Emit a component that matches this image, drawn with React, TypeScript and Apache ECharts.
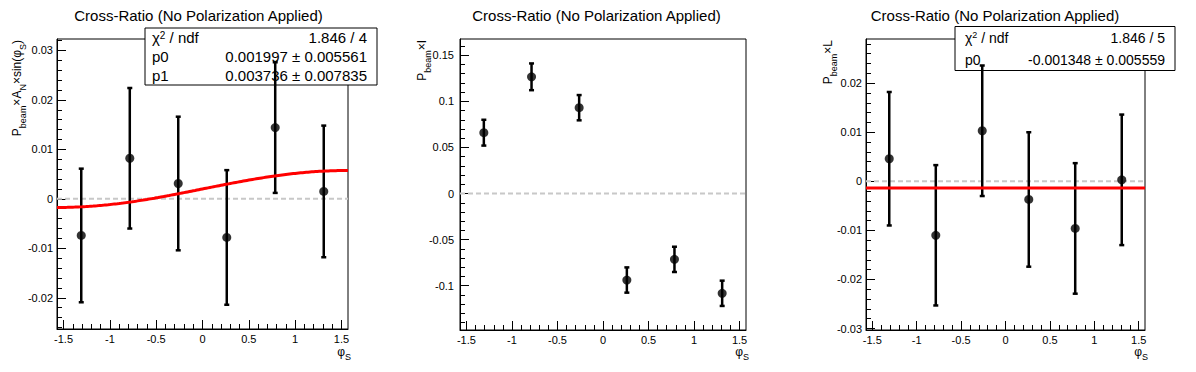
import React, { useEffect, useRef } from "react";
import * as echarts from "echarts";

// ---- data ----
const phiS = [-1.309, -0.785, -0.262, 0.262, 0.785, 1.309];

const aNValues = [-0.0074, 0.0082, 0.0031, -0.0078, 0.0144, 0.0015];
const aNErrors = [0.0135, 0.0142, 0.0135, 0.0136, 0.0132, 0.0133];

const iValues = [0.066, 0.1266, 0.0931, -0.0938, -0.0714, -0.1082];
const iErrors = [0.014, 0.0145, 0.0137, 0.0137, 0.0137, 0.0137];

const lValues = [0.0046, -0.011, 0.0103, -0.0037, -0.0096, 0.0003];
const lErrors = [0.0136, 0.0143, 0.0133, 0.0137, 0.0133, 0.0133];

const xTickLabels = [-1.5, -1, -0.5, 0, 0.5, 1, 1.5];
const yTickLabels1 = [-0.02, -0.01, 0, 0.01, 0.02, 0.03];
const yTickLabels2 = [-0.1, -0.05, 0, 0.05, 0.1, 0.15];
const yTickLabels3 = [-0.03, -0.02, -0.01, 0, 0.01, 0.02];

// fit results shown in the stat boxes
const fit1 = { chi2: "1.846", ndf: "4", p0: "0.001997", p0Err: "0.005561", p1: "0.003736", p1Err: "0.007835" };
const fit3 = { chi2: "1.846", ndf: "5", p0: "-0.001348", p0Err: "0.005559" };

const titleText = "Cross-Ratio (No Polarization Applied)";

// ---- layout / styling ----
const HALF_PI = Math.PI / 2;
const FONT = "'Liberation Sans', Arial, Helvetica, sans-serif";

const layouts = [
  { left: 57, top: 39, width: 291, height: 290, yMin: -0.0263, yMax: 0.0323, yTicks: yTickLabels1, yMinor: 0.002, labelMargin: 4, titleX: 198.5, yTitleX: 17 },
  { left: 460, top: 39, width: 286, height: 291, yMin: -0.148, yMax: 0.1676, yTicks: yTickLabels2, yMinor: 0.01, labelMargin: 6, titleX: 596.5, yTitleX: 422 },
  { left: 866, top: 39, width: 279, height: 291, yMin: -0.0303, yMax: 0.029, yTicks: yTickLabels3, yMinor: 0.002, labelMargin: 4, titleX: 995, yTitleX: 828 },
];

const minorTicks = (min: number, max: number, step: number) => {
  const out: number[] = [];
  const start = Math.ceil(min / step - 1e-9);
  const end = Math.floor(max / step + 1e-9);
  for (let k = start; k <= end; k++) out.push(Number((k * step).toFixed(6)));
  return out;
};

const fmt = (v: number) => String(Number(Number(v).toFixed(4)));

function buildOption() {
  const grids: any[] = [];
  const xAxes: any[] = [];
  const yAxes: any[] = [];
  const series: any[] = [];
  const graphics: any[] = [];

  const panelData = [
    { values: aNValues, errors: aNErrors },
    { values: iValues, errors: iErrors },
    { values: lValues, errors: lErrors },
  ];

  layouts.forEach((L, i) => {
    grids.push({
      left: L.left, top: L.top, width: L.width, height: L.height,
      show: true, borderColor: "#000", borderWidth: 1, backgroundColor: "transparent",
      containLabel: false,
    });
    const xMinor = minorTicks(-HALF_PI, HALF_PI, 0.1);
    xAxes.push({
      gridIndex: i, type: "value", position: "bottom", min: -HALF_PI, max: HALF_PI,
      axisLine: { show: true, onZero: false, lineStyle: { color: "#000", width: 1 } },
      axisTick: { show: true, inside: true, length: 9, customValues: xTickLabels, lineStyle: { color: "#000", width: 1 } },
      axisLabel: { show: true, customValues: xTickLabels, formatter: fmt, fontSize: 11, fontFamily: FONT, color: "#000", margin: 4 },
      splitLine: { show: false },
    });
    xAxes.push({
      gridIndex: i, type: "value", position: "bottom", min: -HALF_PI, max: HALF_PI,
      axisLine: { show: false, onZero: false },
      axisTick: { show: true, inside: true, length: 5, customValues: xMinor, lineStyle: { color: "#000", width: 1 } },
      axisLabel: { show: false },
      splitLine: { show: false },
    });
    const yMinor = minorTicks(L.yMin, L.yMax, L.yMinor);
    yAxes.push({
      gridIndex: i, type: "value", position: "left", min: L.yMin, max: L.yMax,
      axisLine: { show: true, onZero: false, lineStyle: { color: "#000", width: 1 } },
      axisTick: { show: true, inside: true, length: 9, customValues: L.yTicks, lineStyle: { color: "#000", width: 1 } },
      axisLabel: { show: true, customValues: L.yTicks, formatter: fmt, fontSize: 11, fontFamily: FONT, color: "#000", margin: L.labelMargin },
      splitLine: { show: false },
    });
    yAxes.push({
      gridIndex: i, type: "value", position: "left", min: L.yMin, max: L.yMax,
      axisLine: { show: false, onZero: false },
      axisTick: { show: true, inside: true, length: 5, customValues: yMinor, lineStyle: { color: "#000", width: 1 } },
      axisLabel: { show: false },
      splitLine: { show: false },
    });

    const xi = i * 2;
    const yi = i * 2;
    series.push({
      type: "line", xAxisIndex: xi, yAxisIndex: yi, silent: true, symbol: "none", z: 1,
      data: [[-HALF_PI, 0], [HALF_PI, 0]],
      lineStyle: { color: "#c8c8c8", width: 2, type: [5, 3] },
    });
    const { values, errors } = panelData[i];
    series.push({
      type: "custom", xAxisIndex: xi, yAxisIndex: yi, silent: true, z: 3,
      data: phiS.map((x, k) => [x, values[k], errors[k]]),
      encode: { x: 0, y: 1 },
      renderItem: (params: any, api: any) => {
        const x = api.value(0), y = api.value(1), e = api.value(2);
        const t = api.coord([x, y + e]);
        const b = api.coord([x, y - e]);
        const st = { stroke: "#000", lineWidth: 2.5 };
        return {
          type: "group",
          children: [
            { type: "line", shape: { x1: t[0], y1: t[1], x2: b[0], y2: b[1] }, style: st },
            { type: "line", shape: { x1: t[0] - 2.5, y1: t[1], x2: t[0] + 2.5, y2: t[1] }, style: st },
            { type: "line", shape: { x1: b[0] - 2.5, y1: b[1], x2: b[0] + 2.5, y2: b[1] }, style: st },
          ],
        };
      },
    });
    series.push({
      type: "scatter", xAxisIndex: xi, yAxisIndex: yi, silent: true, z: 4,
      symbol: "circle", symbolSize: 9, itemStyle: { color: "#000" },
      data: phiS.map((x, k) => [x, values[k]]),
    });

    graphics.push({
      type: "text", x: L.titleX, y: 15, z: 10,
      style: { text: titleText, align: "center", verticalAlign: "middle", font: `15px ${FONT}`, fill: "#000" },
    });
    // x title phi_S, placed below the last tick label
    graphics.push({
      type: "text", x: L.left + L.width + 3, y: 346, z: 10,
      style: {
        text: "{m|φ}{s|S}", align: "right", verticalAlign: "top",
        rich: {
          m: { fontSize: 12, fontFamily: FONT, lineHeight: 12, verticalAlign: "top", fill: "#000" },
          s: { fontSize: 9, fontFamily: FONT, lineHeight: 9, padding: [6, 0, 0, 0], verticalAlign: "top", fill: "#000" },
        },
      },
    });
  });

  // fit curves (drawn from the fitted parameters)
  const fitX = minorTicks(-HALF_PI, HALF_PI, 0.02);
  fitX[0] = -HALF_PI; fitX[fitX.length - 1] = HALF_PI;
  const p0a = Number(fit1.p0), p1a = Number(fit1.p1);
  series.push({
    type: "line", xAxisIndex: 0, yAxisIndex: 0, silent: true, symbol: "none", z: 5,
    data: fitX.map((x) => [x, p0a + p1a * Math.sin(x)]),
    lineStyle: { color: "#ff0000", width: 3 },
  });
  series.push({
    type: "line", xAxisIndex: 4, yAxisIndex: 4, silent: true, symbol: "none", z: 5,
    data: [[-HALF_PI, Number(fit3.p0)], [HALF_PI, Number(fit3.p0)]],
    lineStyle: { color: "#ff0000", width: 3 },
  });

  // y-axis titles
  const sub = { fontSize: 9, fontFamily: FONT, lineHeight: 9, padding: [7, 0, 0, 0], verticalAlign: "top", fill: "#000" };
  const main = { fontSize: 12, fontFamily: FONT, lineHeight: 12, verticalAlign: "top", fill: "#000" };
  const yTitles = [
    "{m|P}{s|beam}{m|×A}{s|N}{m|×sin(φ}{s|S}{m|)}",
    "{m|P}{s|beam}{m|×I}",
    "{m|P}{s|beam}{m|×L}",
  ];
  layouts.forEach((L, i) => {
    graphics.push({
      type: "text", x: L.yTitleX, y: L.top + 1, rotation: HALF_PI, z: 10,
      style: { text: yTitles[i], align: "right", verticalAlign: "middle", rich: { m: main, s: sub } },
    });
  });

  // stat boxes
  const statRich = (fs: number) => ({
    m: { fontSize: fs, fontFamily: FONT, lineHeight: fs, verticalAlign: "bottom", fill: "#000" },
    sup: { fontSize: Math.round(fs * 0.65), fontFamily: FONT, lineHeight: Math.round(fs * 0.65), verticalAlign: "top", fill: "#000" },
  });
  const statBox = (x: number, y: number, w: number, h: number, rows: string[][], fs: number, padL: number, padR: number) => {
    const children: any[] = [
      { type: "rect", shape: { x, y, width: w, height: h }, style: { fill: "#fff", stroke: "#000", lineWidth: 1 } },
    ];
    const rh = h / rows.length;
    rows.forEach((r, k) => {
      const cy = y + rh * (k + 0.5);
      children.push({ type: "text", x: x + padL, y: cy, style: { text: r[0], align: "left", verticalAlign: "middle", rich: statRich(fs) } });
      children.push({ type: "text", x: x + w - padR, y: cy, style: { text: r[1], align: "right", verticalAlign: "middle", font: `${fs}px ${FONT}`, fill: "#000" } });
    });
    return { type: "group", z: 20, children };
  };
  graphics.push(statBox(145, 28, 232, 57, [
    ["{m|χ}{sup|2}{m| / ndf}", `${fit1.chi2} / ${fit1.ndf}`],
    ["{m|p0}", `${fit1.p0} ± ${fit1.p0Err}`],
    ["{m|p1}", `${fit1.p1} ± ${fit1.p1Err}`],
  ], 15, 7, 10));
  graphics.push(statBox(955, 26.5, 220, 44, [
    ["{m|χ}{sup|2}{m| / ndf}", `${fit3.chi2} / ${fit3.ndf}`],
    ["{m|p0}", `${fit3.p0} ± ${fit3.p0Err}`],
  ], 14, 10, 10));

  return {
    animation: false,
    backgroundColor: "#fff",
    grid: grids,
    xAxis: xAxes,
    yAxis: yAxes,
    series,
    graphic: graphics,
  };
}

export default function App() {
  const ref = useRef<HTMLDivElement>(null);
  useEffect(() => {
    if (!ref.current) return;
    const chart = echarts.init(ref.current, null, { renderer: "svg" });
    chart.setOption(buildOption() as any);
    return () => chart.dispose();
  }, []);
  return <div ref={ref} style={{ position: "fixed", left: 0, top: 0, width: 1196, height: 372 }} />;
}
